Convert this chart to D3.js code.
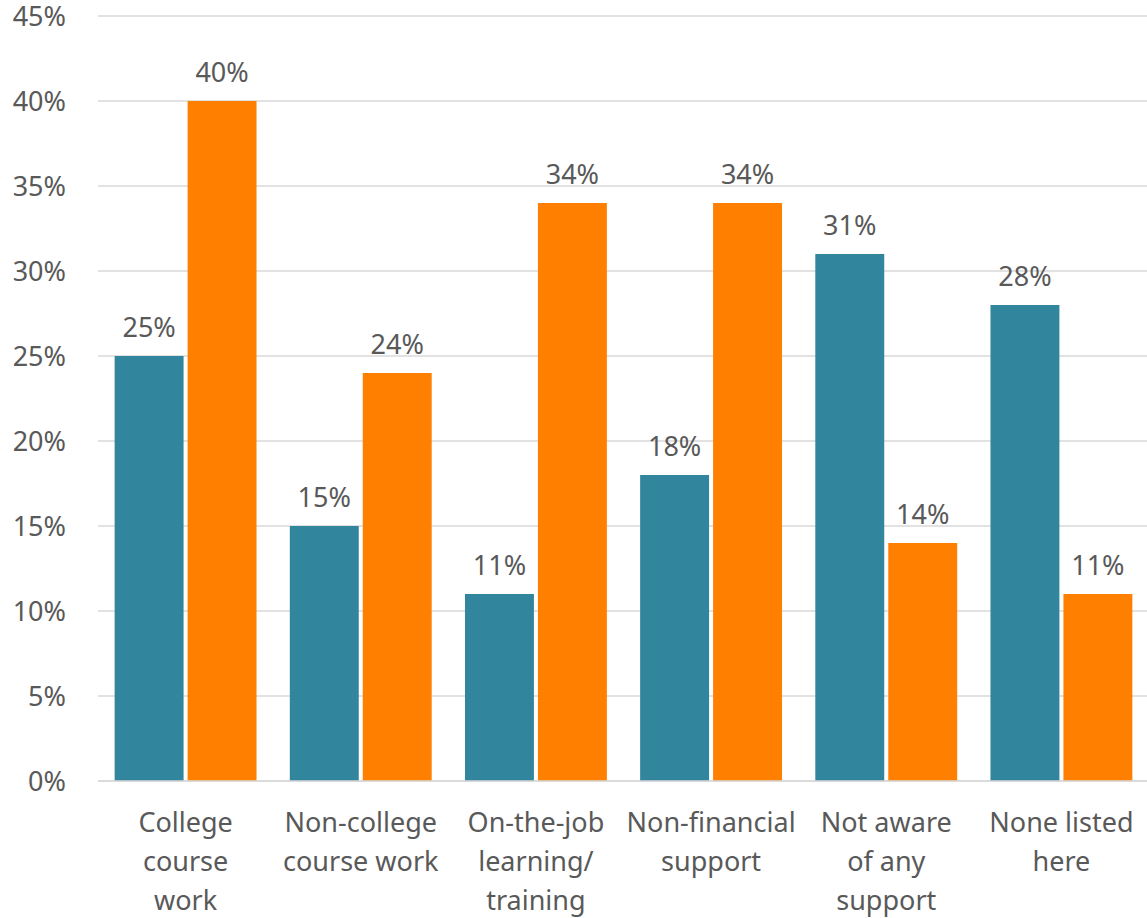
<!DOCTYPE html>
<html>
<head>
<meta charset="utf-8">
<script src="https://cdn.jsdelivr.net/npm/d3@7"></script>
<style>
  html, body { margin: 0; padding: 0; background: #fff; }
  svg { display: block; }
  text { font-family: "Noto Sans", "Open Sans", sans-serif; fill: #595959; }
</style>
</head>
<body>
<svg id="chart" width="1147" height="918"></svg>
<script>
// Support types and the two respondent groups
const categories = [
  ["College", "course", "work"],
  ["Non-college", "course work"],
  ["On-the-job", "learning/", "training"],
  ["Non-financial", "support"],
  ["Not aware", "of any", "support"],
  ["None listed", "here"]
];
const seriesA = [25, 15, 11, 18, 31, 28];
const seriesB = [40, 24, 34, 34, 14, 11];
const tickValues = [0, 5, 10, 15, 20, 25, 30, 35, 40, 45];

const colors = ["#31859C", "#FF8000"];
const fontSize = "27px";

const svg = d3.select("#chart");
const margin = { left: 98, right: 0, top: 16, bottom: 137 };
const width = 1149, height = 918;

const x0 = d3.scaleBand()
  .domain(d3.range(categories.length))
  .range([margin.left, width - margin.right])
  .paddingInner(0.19)
  .paddingOuter(0.095);

const x1 = d3.scaleBand()
  .domain([0, 1])
  .range([0, x0.bandwidth()])
  .paddingInner(0.055);

const y = d3.scaleLinear()
  .domain([0, 45])
  .range([height - margin.bottom, margin.top]);

// Horizontal gridlines
svg.append("g")
  .selectAll("line")
  .data(tickValues)
  .join("line")
  .attr("x1", margin.left)
  .attr("x2", 1147)
  .attr("y1", d => y(d))
  .attr("y2", d => y(d))
  .attr("stroke", "#d9d9d9")
  .attr("stroke-width", 1.5);

// Y axis labels
const yAxis = d3.axisLeft(y)
  .tickValues(tickValues)
  .tickFormat(d => d + "%")
  .tickSize(0)
  .tickPadding(0);
const yg = svg.append("g")
  .attr("transform", `translate(66,1)`)
  .call(yAxis);
yg.select(".domain").remove();
yg.selectAll("text")
  .style("font-size", fontSize)
  .attr("fill", "#595959")
  .attr("font-family", "Noto Sans, sans-serif");

// Bars
const rows = categories.map((c, i) => [seriesA[i], seriesB[i]]);
const groups = svg.append("g")
  .selectAll("g")
  .data(rows)
  .join("g")
  .attr("transform", (d, i) => `translate(${x0(i)},0)`);

groups.selectAll("rect")
  .data(d => d.map((v, k) => ({ v, k })))
  .join("rect")
  .attr("x", d => x1(d.k))
  .attr("width", x1.bandwidth())
  .attr("y", d => y(d.v))
  .attr("height", d => y(0) - y(d.v))
  .attr("fill", d => colors[d.k]);

// Value labels
groups.selectAll("text.val")
  .data(d => d.map((v, k) => ({ v, k })))
  .join("text")
  .attr("class", "val")
  .attr("x", d => x1(d.k) + x1.bandwidth() / 2)
  .attr("y", d => y(d.v) - 19)
  .attr("text-anchor", "middle")
  .style("font-size", fontSize)
  .text(d => d.v + "%");

// Baseline
svg.append("line")
  .attr("x1", margin.left)
  .attr("x2", 1147)
  .attr("y1", y(0))
  .attr("y2", y(0))
  .attr("stroke", "#d9d9d9")
  .attr("stroke-width", 1.5);

// Category labels
const xAxis = svg.append("g");
categories.forEach((lines, i) => {
  const cx = x0(i) + x0.bandwidth() / 2;
  const t = xAxis.append("text")
    .attr("x", cx)
    .attr("y", 832)
    .attr("text-anchor", "middle")
    .style("font-size", fontSize);
  lines.forEach((ln, j) => {
    t.append("tspan")
      .attr("x", cx)
      .attr("dy", j === 0 ? 0 : 39)
      .text(ln);
  });
});
</script>
</body>
</html>
